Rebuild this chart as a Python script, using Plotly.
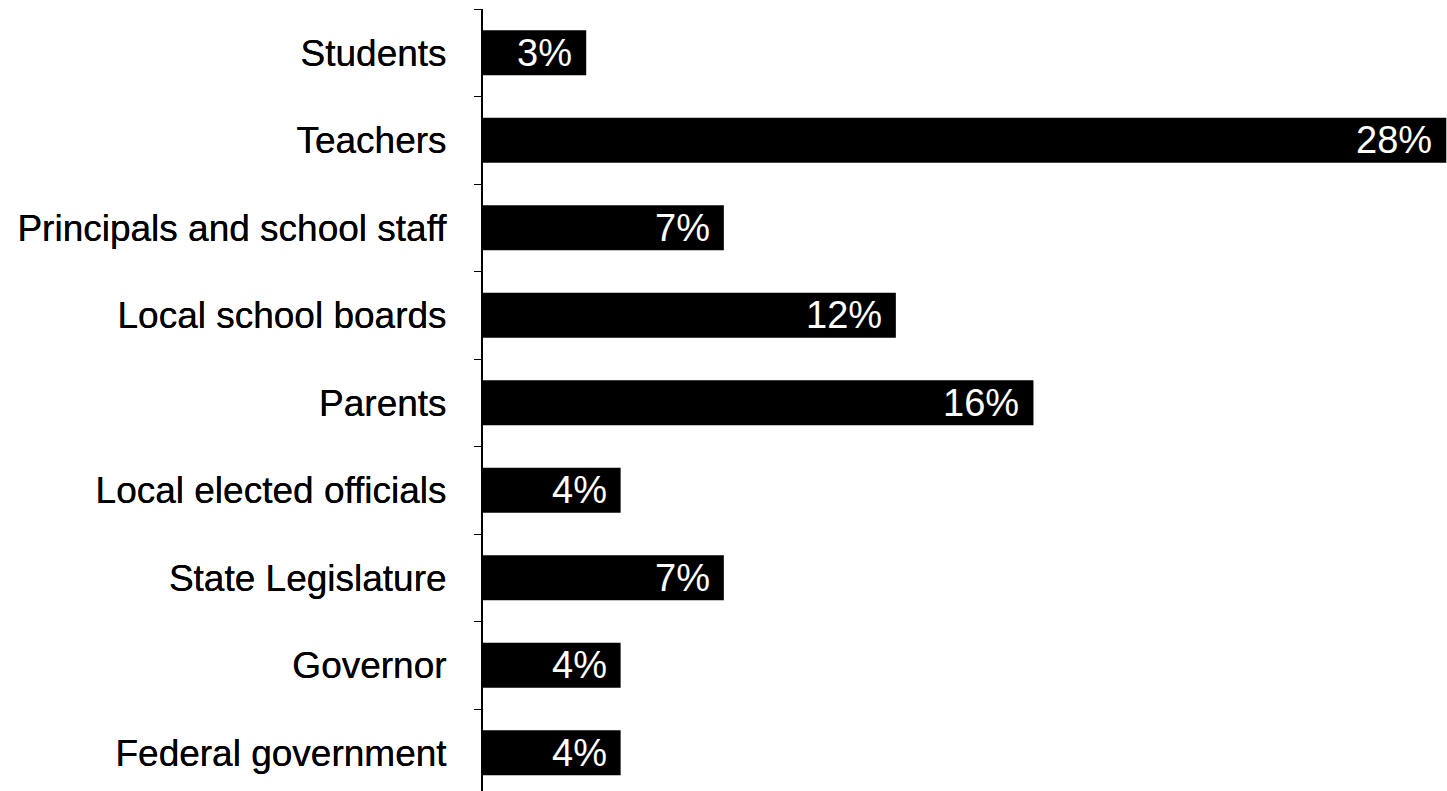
import plotly.graph_objects as go

# Survey results: share of responses per group
categories = [
    "Students",
    "Teachers",
    "Principals and school staff",
    "Local school boards",
    "Parents",
    "Local elected officials",
    "State Legislature",
    "Governor",
    "Federal government",
]
shares = [3, 28, 7, 12, 16, 4, 7, 4, 4]

labels = [f"{v}%" for v in shares]

fig = go.Figure()
fig.add_trace(
    go.Bar(
        x=shares,
        y=categories,
        orientation="h",
        marker=dict(color="black", line=dict(width=0)),
        hoverinfo="skip",
    )
)

# value labels sitting inside the end of each bar
for cat, v, lab in zip(categories, shares, labels):
    fig.add_annotation(
        x=v,
        y=cat,
        text=lab,
        showarrow=False,
        xanchor="right",
        yanchor="middle",
        xshift=-12,
        font=dict(family="Liberation Sans, Arial, sans-serif", size=38, color="white"),
    )

fig.update_layout(
    width=1447,
    height=791,
    margin=dict(l=483, r=0, t=9, b=0),
    plot_bgcolor="white",
    paper_bgcolor="white",
    bargap=0.486,
    showlegend=False,
    font=dict(family="Liberation Sans, Arial, sans-serif", color="black"),
)

fig.update_xaxes(
    range=[0, 28.02],
    showgrid=False,
    zeroline=False,
    showline=False,
    showticklabels=False,
    ticks="",
)

fig.update_yaxes(
    categoryorder="array",
    categoryarray=categories,
    range=[8.437, -0.5],
    showgrid=False,
    zeroline=False,
    showline=True,
    linecolor="black",
    linewidth=2,
    ticks="outside",
    tickson="boundaries",
    ticklen=7,
    tickwidth=1,
    tickcolor="black",
    ticklabelstandoff=27,
    tickfont=dict(
        family="Liberation Sans, Arial, sans-serif",
        size=37,
        color="black",
        shadow="0px 0px 0.6px black",
    ),
)

fig.write_html("out.html")
